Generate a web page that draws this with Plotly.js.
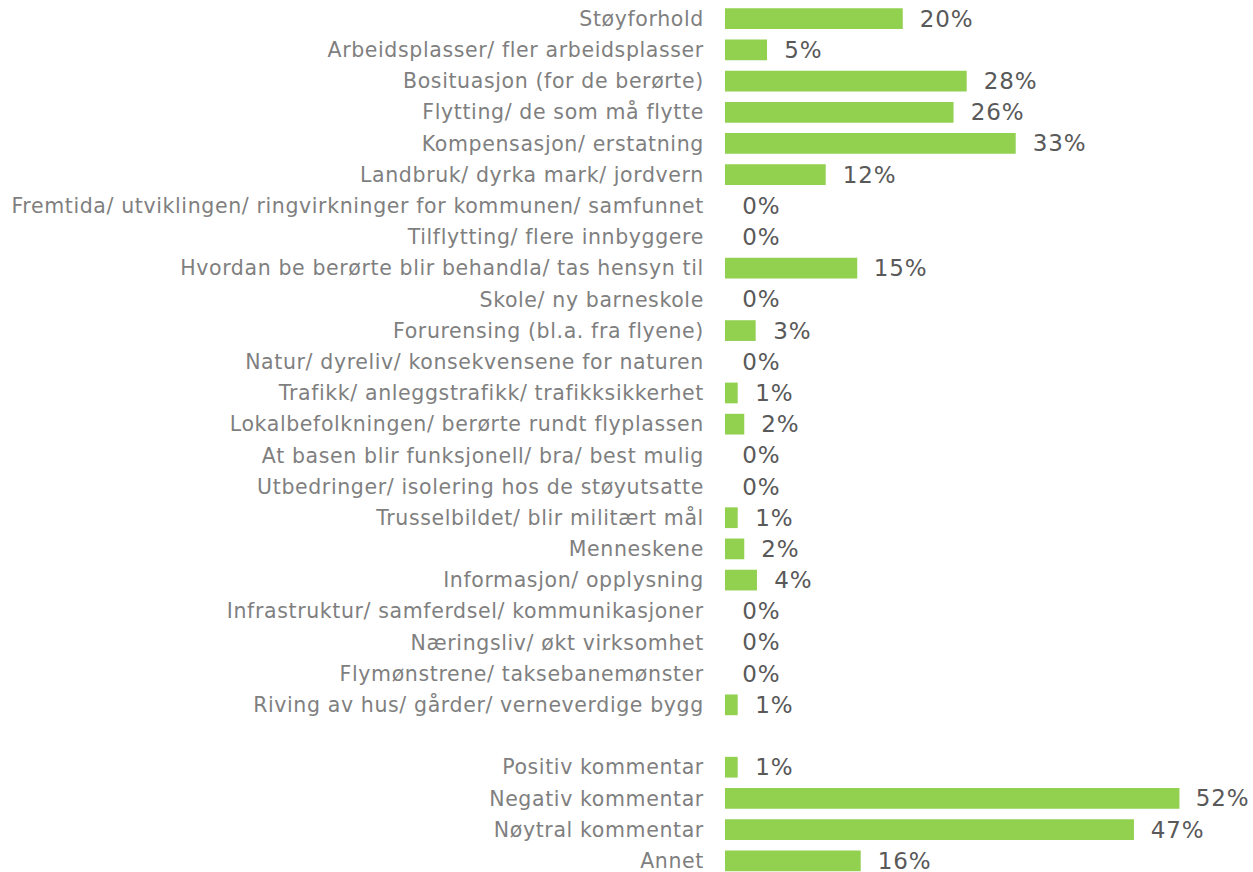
<!DOCTYPE html>
<html>
<head>
<meta charset="utf-8">
<script src="https://cdn.plot.ly/plotly-3.0.1.min.js"></script>
<style>
html,body{margin:0;padding:0;background:#fff;}
#chart{width:1253px;height:872px;}
#chart .ytick text{letter-spacing:0.62px;}
#chart .annotation-text{letter-spacing:0.8px;}
</style>
</head>
<body>
<div id="chart"></div>
<script>
const categories = [
  "Støyforhold",
  "Arbeidsplasser/ fler arbeidsplasser",
  "Bosituasjon (for de berørte)",
  "Flytting/ de som må flytte",
  "Kompensasjon/ erstatning",
  "Landbruk/ dyrka mark/ jordvern",
  "Fremtida/ utviklingen/ ringvirkninger for kommunen/ samfunnet",
  "Tilflytting/ flere innbyggere",
  "Hvordan be berørte blir behandla/ tas hensyn til",
  "Skole/ ny barneskole",
  "Forurensing (bl.a. fra flyene)",
  "Natur/ dyreliv/ konsekvensene for naturen",
  "Trafikk/ anleggstrafikk/ trafikksikkerhet",
  "Lokalbefolkningen/ berørte rundt flyplassen",
  "At basen blir funksjonell/ bra/ best mulig",
  "Utbedringer/ isolering hos de støyutsatte",
  "Trusselbildet/ blir militært mål",
  "Menneskene",
  "Informasjon/ opplysning",
  "Infrastruktur/ samferdsel/ kommunikasjoner",
  "Næringsliv/ økt virksomhet",
  "Flymønstrene/ taksebanemønster",
  "Riving av hus/ gårder/ verneverdige bygg",
  " ",
  "Positiv kommentar",
  "Negativ kommentar",
  "Nøytral kommentar",
  "Annet"
];
// estimated bar lengths (percent)
const values = [20.3, 4.8, 27.6, 26.1, 33.2, 11.5, 0, 0, 15.1, 0, 3.5, 0, 1.45, 2.2, 0, 0, 1.45, 2.2, 3.65, 0, 0, 0, 1.45, null, 1.45, 51.9, 46.7, 15.5];
// printed labels
const labels = ["20%", "5%", "28%", "26%", "33%", "12%", "0%", "0%", "15%", "0%", "3%", "0%", "1%", "2%", "0%", "0%", "1%", "2%", "4%", "0%", "0%", "0%", "1%", "", "1%", "52%", "47%", "16%"];

const FONT = "DejaVu Sans, Verdana, sans-serif";

const annotations = [];
categories.forEach((c, i) => {
  if (values[i] === null) return;
  annotations.push({
    x: values[i], y: c, xref: "x", yref: "y",
    text: labels[i], showarrow: false,
    xanchor: "left", yanchor: "middle", xshift: 16,
    font: {family: FONT, size: 23, color: "#595959"}
  });
});

Plotly.newPlot("chart", [{
  type: "bar",
  orientation: "h",
  x: values,
  y: categories,
  marker: {color: "#92D050", line: {width: 0}},
  hoverinfo: "none"
}], {
  width: 1253, height: 872,
  margin: {l: 725, r: 0, t: 0, b: 0, pad: 0},
  paper_bgcolor: "#ffffff", plot_bgcolor: "#ffffff",
  bargap: 0.335,
  showlegend: false,
  xaxis: {range: [0, 60.3], visible: false, fixedrange: true},
  yaxis: {
    type: "category",
    categoryorder: "array", categoryarray: categories,
    range: [27.36, -0.6],
    showgrid: false, zeroline: false, showline: false,
    ticks: "outside", ticklen: 16, tickcolor: "rgba(0,0,0,0)",
    tickfont: {family: FONT, size: 20.5, color: "#7f7f7f"},
    automargin: false, fixedrange: true
  },
  annotations: annotations
}, {displayModeBar: false, staticPlot: true});
</script>
</body>
</html>
